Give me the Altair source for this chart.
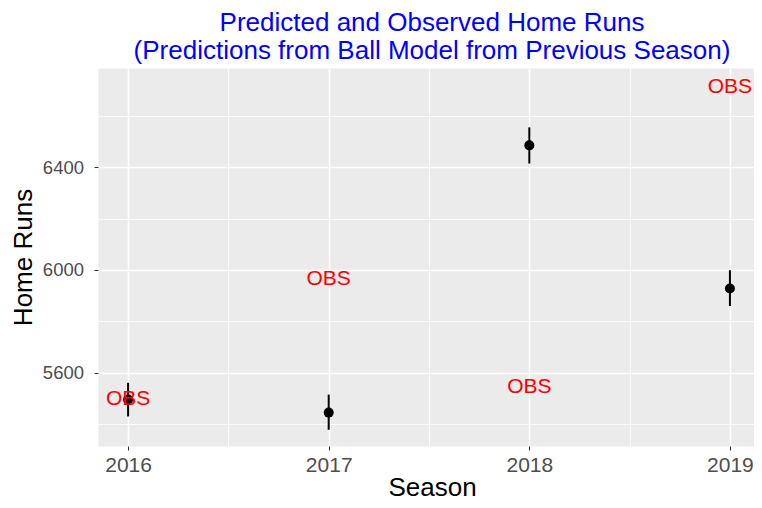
import altair as alt
import pandas as pd

# ---- data ----
seasons = [2016, 2017, 2018, 2019]
predicted = [5496, 5445, 6485, 5928]
pred_lower = [5430, 5378, 6414, 5860]
pred_upper = [5561, 5515, 6555, 5999]
obs_label_y = [5496, 5964, 5545, 6713]
obs_labels = ["OBS", "OBS", "OBS", "OBS"]

x_ticks = [2016, 2016.5, 2017, 2017.5, 2018, 2018.5, 2019]
y_ticks = [5400, 5600, 5800, 6000, 6200, 6400, 6600]

df = pd.DataFrame({
    "season": seasons,
    "predicted": predicted,
    "lower": pred_lower,
    "upper": pred_upper,
    "label_y": obs_label_y,
    "label": obs_labels,
})

FONT = "Liberation Sans"

x_scale = alt.Scale(domain=[2015.85, 2019.12], nice=False, zero=False)
y_scale = alt.Scale(domain=[5315, 6786], nice=False, zero=False)

x_axis = alt.Axis(
    values=x_ticks,
    labelExpr="datum.value % 1 === 0 ? '' + datum.value : ''",
    title="Season",
    titleFont=FONT, titleFontSize=26, titleFontWeight="normal", titleColor="black",
    titlePadding=-1, titleX=334,
    labelFont=FONT, labelFontSize=21, labelColor="#4D4D4D", labelPadding=4,
    labelOverlap=False, labelFlush=False,
    tickSize=4, tickColor="#333333", tickWidth=1,
    tickOpacity={"condition": {"test": "datum.value % 1 === 0", "value": 1}, "value": 0},
    grid=True, gridColor="white",
    gridWidth={"condition": {"test": "datum.value % 1 === 0", "value": 1.6}, "value": 0.8},
    domain=False,
)

y_axis = alt.Axis(
    values=y_ticks,
    labelExpr="datum.value % 400 === 0 ? '' + datum.value : ''",
    title="Home Runs",
    titleFont=FONT, titleFontSize=26, titleFontWeight="normal", titleColor="black",
    titlePadding=6,
    labelFont=FONT, labelFontSize=18.5, labelColor="#4D4D4D", labelPadding=10.5,
    labelOverlap=False, labelFlush=False,
    tickSize=4, tickColor="#333333", tickWidth=1,
    tickOpacity={"condition": {"test": "datum.value % 400 === 0", "value": 1}, "value": 0},
    grid=True, gridColor="white",
    gridWidth={"condition": {"test": "datum.value % 400 === 0", "value": 1.6}, "value": 0.8},
    domain=False,
)

base = alt.Chart(df)

bars = base.mark_rule(color="black", strokeWidth=2).encode(
    x=alt.X("season:Q", scale=x_scale, axis=x_axis),
    y=alt.Y("lower:Q", scale=y_scale, axis=y_axis),
    y2="upper:Q",
)

points = base.mark_point(filled=True, color="black", size=100, opacity=1, shape="circle").encode(
    x=alt.X("season:Q", scale=x_scale, axis=x_axis),
    y=alt.Y("predicted:Q", scale=y_scale, axis=y_axis),
)

labels = base.mark_text(font=FONT, fontSize=21, color="#FF0000", align="center", baseline="middle").encode(
    x=alt.X("season:Q", scale=x_scale, axis=x_axis),
    y=alt.Y("label_y:Q", scale=y_scale, axis=y_axis),
    text="label:N",
)

chart = alt.layer(bars, points, labels).properties(
    width=656,
    height=378,
    background="white",
    autosize=alt.AutoSizeParams(type="none"),
    padding={"left": 90, "top": 60, "right": 0, "bottom": 54},
    title=alt.TitleParams(
        text=["Predicted and Observed Home Runs",
              "(Predictions from Ball Model from Previous Season)"],
        font=FONT, fontSize=26, fontWeight="normal", color="#0000FF",
        anchor="middle", frame="group", dx=6, dy=30, offset=8, lineHeight=28.5,
        baseline="bottom",
    ),
).configure_view(
    fill="#EBEBEB", stroke="transparent"
)

chart.save("out.html", embed_options={"renderer": "svg", "actions": False})
